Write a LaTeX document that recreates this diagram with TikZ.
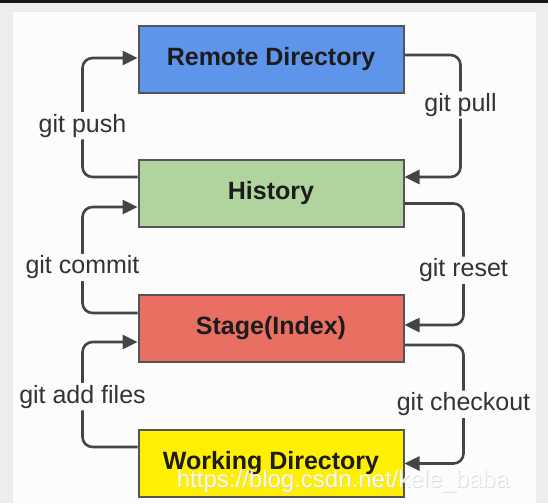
\documentclass[tikz,border=0pt]{standalone}
\usepackage{fontspec}
\setmainfont{Liberation Sans}
\usetikzlibrary{arrows.meta}
\definecolor{bgdark}{HTML}{161616}
\definecolor{bggrey}{HTML}{EDEDED}
\definecolor{panel}{HTML}{FCFCFC}
\definecolor{remotec}{HTML}{5E94EA}
\definecolor{historyc}{HTML}{B1D49F}
\definecolor{stagec}{HTML}{E96F62}
\definecolor{workc}{HTML}{FFEF00}
\definecolor{edgec}{HTML}{555555}
\definecolor{linec}{HTML}{454545}
\definecolor{txtc}{HTML}{1C1C1C}
\definecolor{labc}{HTML}{333333}
\definecolor{wmshadow}{HTML}{D4D4D4}
\tikzset{
  box/.style={draw=edgec, line width=2pt, minimum width=265pt, minimum height=67pt,
    inner sep=0pt, text=txtc, font=\bfseries\fontsize{25}{30}\selectfont},
  conn/.style={draw=linec, line width=2.6pt, rounded corners=10pt,
    -{Triangle[length=15pt,width=14pt]}},
  lab/.style={fill=panel, text=labc, inner sep=2pt, font=\fontsize{25}{30}\selectfont},
  wmark/.style={font=\fontsize{24}{28}\selectfont},
}
\begin{document}
\begin{tikzpicture}[x=1pt,y=-1pt]
\useasboundingbox (0,0) rectangle (548,503);
% background
\fill[bggrey] (0,0) rectangle (548,503);
\fill[bgdark] (0,0) rectangle (548,3);
\fill[panel] (13,12) rectangle (536,503);
% boxes
\node[box, fill=remotec]  (remote)  at (271,59.5)  {Remote Directory};
\node[box, fill=historyc] (history) at (271,193.5) {History};
\node[box, fill=stagec]   (stage)   at (271,328)   {Stage(Index)};
\node[box, fill=workc]    (work)    at (271,463.5) {Working Directory};
% left connectors
\draw[conn] ([yshift=16.5pt]history.west) -- ++(-55,0) |- ([yshift=1.5pt]remote.west)
  node[lab, pos=0.215] (lpush) {git push};
\draw[conn] ([yshift=15pt]stage.west) -- ++(-55,0) |- ([yshift=-13.5pt]history.west)
  node[lab, pos=0.215] (lcommit) {git commit};
\draw[conn] ([yshift=16.5pt]work.west) -- ++(-55,0) |- ([yshift=-14pt]stage.west)
  node[lab, pos=0.24] (ladd) {git add files};
% right connectors
\draw[conn] ([yshift=4.5pt]remote.east) -- ++(56,0) |- ([yshift=16.5pt]history.east)
  node[lab, pos=0.205] (lpull) {git pull};
\draw[conn] ([yshift=-10pt]history.east) -- ++(59,0) |- ([yshift=3pt]stage.east)
  node[lab, pos=0.275] (lreset) {git reset};
\draw[conn] ([yshift=-17pt]stage.east) -- ++(59,0) |- (work.east)
  node[lab, pos=0.25] (lcheckout) {git checkout};
% watermark
\node[wmark, text=wmshadow, opacity=0.8] (wmsh) at (343.8,481.8) {https://blog.csdn.net/kele\_baba};
\node[wmark, text=white, opacity=0.8] (wm) at (343,481) {https://blog.csdn.net/kele\_baba};
\end{tikzpicture}
\end{document}
